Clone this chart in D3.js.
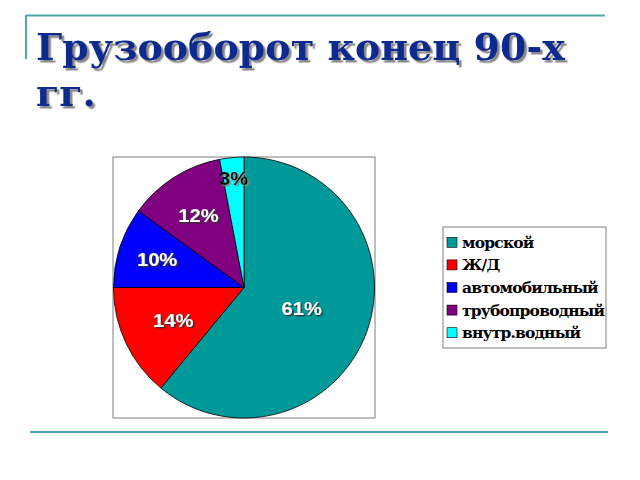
<!DOCTYPE html>
<html>
<head>
<meta charset="utf-8">
<script src="https://cdn.jsdelivr.net/npm/d3@7"></script>
<style>
  body { margin: 0; background: #fff; }
  .serif { font-family: "DejaVu Serif", serif; font-weight: bold; }
  .sans { font-family: "Liberation Sans", Arial, sans-serif; font-weight: bold; }
</style>
</head>
<body>
<svg id="chart"></svg>
<script>
// Data
const categories = ["морской", "Ж/Д", "автомобильный", "трубопроводный", "внутр.водный"];
const shares = [61, 14, 10, 12, 3];
const labels = ["61%", "14%", "10%", "12%", "3%"];
const colors = ["#009999", "#ff0000", "#0000ff", "#800080", "#00ffff"];

let width = 640;
let height = 480;

let svg = d3.select("#chart")
    .attr("width", width)
    .attr("height", height)
    .style("background", "#ffffff");

let defs = svg.append("defs");
defs.append("filter").attr("id", "shadowTitle")
    .append("feDropShadow")
    .attr("dx", 2.5).attr("dy", 2.5).attr("stdDeviation", 0.4)
    .attr("flood-color", "#8a8a8a").attr("flood-opacity", 1);
defs.append("filter").attr("id", "shadowDark")
    .append("feDropShadow")
    .attr("dx", 1.3).attr("dy", 1.3).attr("stdDeviation", 0.3)
    .attr("flood-color", "#333").attr("flood-opacity", 1);
defs.append("filter").attr("id", "shadowLight")
    .append("feDropShadow")
    .attr("dx", 1.3).attr("dy", 1.3).attr("stdDeviation", 0.3)
    .attr("flood-color", "#888").attr("flood-opacity", 1);

// Slide decoration lines
svg.append("line")
    .attr("x1", 26).attr("x2", 605).attr("y1", 15.5).attr("y2", 15.5)
    .attr("stroke", "#4fa8a8").attr("stroke-width", 2);
svg.append("line")
    .attr("x1", 26).attr("x2", 26).attr("y1", 15).attr("y2", 59)
    .attr("stroke", "#4fa8a8").attr("stroke-width", 2);
svg.append("line")
    .attr("x1", 30).attr("x2", 608).attr("y1", 432).attr("y2", 432)
    .attr("stroke", "#4fa8a8").attr("stroke-width", 2);

// Title with shadow
let titleLines = ["Грузооборот конец 90-х", "гг."];
let title = svg.append("g")
    .attr("class", "serif")
    .style("font-size", "38px");
titleLines.forEach((t, i) => {
    title.append("text")
        .attr("x", 36).attr("y", 60 + i * 46)
        .attr("fill", "#0d2b8e")
        .attr("filter", "url(#shadowTitle)")
        .text(t);
});

// Plot area box
let box = { x: 113, y: 157, w: 262, h: 261 };
svg.append("rect")
    .attr("x", box.x).attr("y", box.y)
    .attr("width", box.w).attr("height", box.h)
    .attr("fill", "#fff")
    .attr("stroke", "#7f7f7f");

let cx = box.x + box.w / 2;
let cy = box.y + box.h / 2;
let r = box.h / 2;

let pie = d3.pie().sort(null).value(d => d);
let arcs = pie(shares);

let arc = d3.arc().innerRadius(0).outerRadius(r);

let g = svg.append("g").attr("transform", `translate(${cx},${cy})`);

g.selectAll("path")
    .data(arcs)
    .enter().append("path")
    .attr("d", arc)
    .attr("fill", (d, i) => colors[i])
    .attr("stroke", "#000")
    .attr("stroke-width", 0.8);

// Label distance from centre: smaller slices sit further out
let labelR = d3.scaleLinear()
    .domain([3, 10, 14, 61])
    .range([0.84, 0.7, 0.6, 0.47]);

let lab = g.append("g")
    .attr("class", "sans")
    .style("font-size", "18px")
    .attr("text-anchor", "middle");

arcs.forEach((d, i) => {
    let rr = labelR(d.value) * r;
    let c = d3.arc().innerRadius(rr).outerRadius(rr).centroid(d);
    let dark = d.value < 5;
    lab.append("text")
        .attr("transform", `translate(${c[0]},${c[1]}) scale(1.12,1)`)
        .attr("dy", "0.35em")
        .attr("fill", dark ? "#000" : "#fff")
        .attr("filter", dark ? "url(#shadowLight)" : "url(#shadowDark)")
        .text(labels[i]);
});

// Legend
let legend = svg.append("g").attr("transform", "translate(443,227)");
legend.append("rect")
    .attr("width", 163).attr("height", 121)
    .attr("fill", "#fff")
    .attr("stroke", "#7f7f7f");

let rowY = d3.scaleBand()
    .domain(categories)
    .range([4, 117]);

let items = legend.selectAll(".item")
    .data(categories)
    .enter().append("g")
    .attr("class", "item")
    .attr("transform", d => `translate(0,${rowY(d) + rowY.bandwidth() / 2})`);

items.append("rect")
    .attr("x", 4).attr("y", -5)
    .attr("width", 10).attr("height", 10)
    .attr("fill", (d, i) => colors[i])
    .attr("stroke", "#000")
    .attr("stroke-width", 0.6);

items.append("text")
    .attr("class", "serif")
    .attr("x", 19)
    .attr("dy", "0.35em")
    .style("font-size", "15.5px")
    .attr("letter-spacing", -0.8)
    .attr("fill", "#000")
    .text(d => d);
</script>
</body>
</html>
